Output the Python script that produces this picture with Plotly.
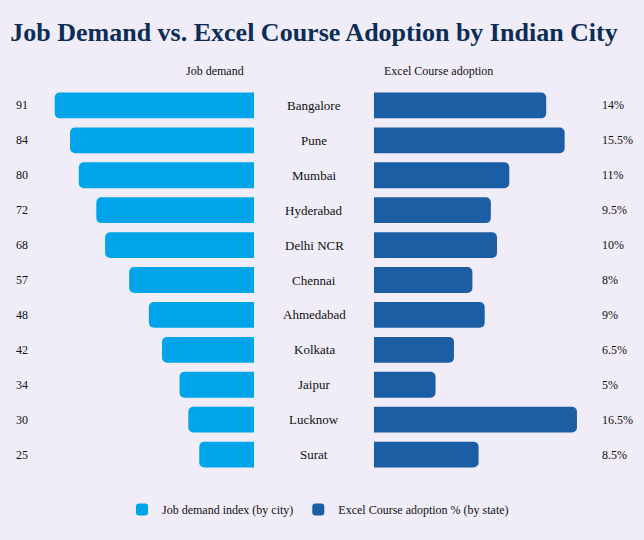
import plotly.graph_objects as go

cities = ["Bangalore", "Pune", "Mumbai", "Hyderabad", "Delhi NCR", "Chennai",
          "Ahmedabad", "Kolkata", "Jaipur", "Lucknow", "Surat"]
job_demand = [91, 84, 80, 72, 68, 57, 48, 42, 34, 30, 25]
excel_adoption = [14, 15.5, 11, 9.5, 10, 8, 9, 6.5, 5, 16.5, 8.5]
adoption_labels = ["14%", "15.5%", "11%", "9.5%", "10%", "8%", "9%", "6.5%", "5%", "16.5%", "8.5%"]

W = 644
H = 540
light_blue = "#00a5e9"
dark_blue = "#1b5ea4"
bg = "#f0ecf8"
serif = "Liberation Serif, Times New Roman, serif"

top, bottom = 87.5, 67.5
ph = H - top - bottom

fig = go.Figure()

fig.add_trace(go.Bar(
    x=job_demand, y=cities, orientation="h",
    xaxis="x", yaxis="y",
    marker=dict(color=light_blue, line=dict(width=0)),
    width=0.74,
    name="Job demand index (by city)",
    hoverinfo="x+y",
))
fig.add_trace(go.Bar(
    x=excel_adoption, y=cities, orientation="h",
    xaxis="x2", yaxis="y",
    marker=dict(color=dark_blue, line=dict(width=0)),
    width=0.74,
    name="Excel Course adoption % (by state)",
    hoverinfo="x+y",
))

annotations = []
for c, v, lab in zip(cities, job_demand, adoption_labels):
    annotations.append(dict(x=22 / W, y=c, xref="paper", yref="y", text=str(v),
                            showarrow=False, xanchor="center",
                            font=dict(family=serif, size=12, color="#111")))
    annotations.append(dict(x=314 / W, y=c, xref="paper", yref="y", text=c,
                            showarrow=False, xanchor="center",
                            font=dict(family=serif, size=13, color="#111")))
    annotations.append(dict(x=600 / W, y=c, xref="paper", yref="y", text=lab,
                            showarrow=False, xanchor="left",
                            font=dict(family=serif, size=12, color="#111")))

# column headers
annotations.append(dict(x=215 / W, y=(H - bottom - 70) / ph, xref="paper", yref="paper",
                        text="Job demand", showarrow=False, xanchor="center", yanchor="middle",
                        font=dict(family=serif, size=12, color="#111")))
annotations.append(dict(x=438 / W, y=(H - bottom - 70) / ph, xref="paper", yref="paper",
                        text="Excel Course adoption", showarrow=False, xanchor="center",
                        yanchor="middle", font=dict(family=serif, size=12, color="#111")))

fig.update_layout(
    width=W, height=H,
    paper_bgcolor=bg, plot_bgcolor=bg,
    font=dict(family=serif, color="#111"),
    margin=dict(l=0, r=0, t=top, b=bottom),
    title=dict(text="<b>Job Demand vs. Excel Course Adoption by Indian City</b>",
               x=314 / W, xanchor="center", y=1 - 32 / H, yanchor="middle",
               font=dict(size=26, color="#0c2d57", family=serif)),
    barcornerradius=5,
    xaxis=dict(domain=[35 / W, 254 / W], range=[100, 0], showgrid=False,
               zeroline=False, showticklabels=False, showline=False),
    xaxis2=dict(domain=[374 / W, 620 / W], range=[0, 20], showgrid=False,
                zeroline=False, showticklabels=False, showline=False),
    yaxis=dict(categoryorder="array", categoryarray=cities, autorange="reversed",
               showgrid=False, zeroline=False, showticklabels=False),
    legend=dict(orientation="h", x=318 / W, xanchor="center", y=(H - bottom - 510) / ph,
                yanchor="middle", font=dict(family=serif, size=12, color="#111"),
                bgcolor="rgba(0,0,0,0)"),
    annotations=annotations,
    showlegend=True,
)

fig.write_html("out.html", config={"displayModeBar": False},
               post_script="document.body.style.margin='0';")
